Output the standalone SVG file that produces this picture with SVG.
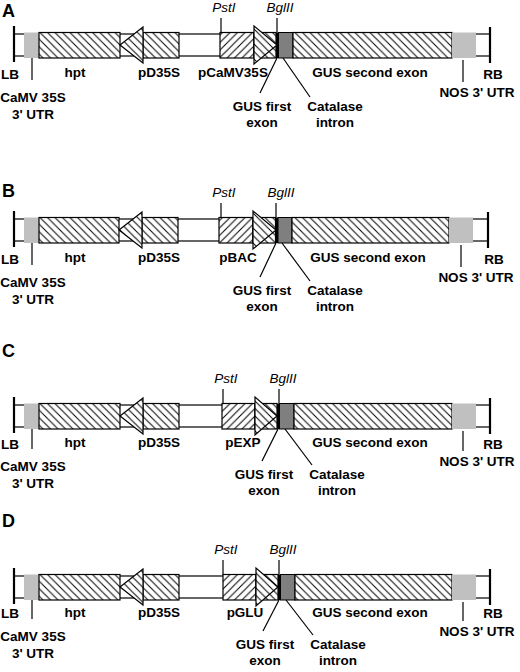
<svg xmlns="http://www.w3.org/2000/svg" width="520" height="672" viewBox="0 0 520 672">
<style>
.t{font-family:"Liberation Sans",Arial,sans-serif;font-weight:bold;font-size:13.5px;fill:#000;text-anchor:middle}
.i{font-family:"Liberation Sans",Arial,sans-serif;font-style:italic;font-size:13.5px;fill:#000;text-anchor:middle}
.L{font-family:"Liberation Sans",Arial,sans-serif;font-weight:bold;font-size:18px;fill:#000}
.bb{fill:#fff;stroke:#000;stroke-width:1.2}
.hb{fill:url(#hb);stroke:#000;stroke-width:1.2}
.hf{fill:url(#hf);stroke:#000;stroke-width:1.2}
.lg{fill:#c0c0c0}
.dg{fill:#7f7f7f;stroke:#000;stroke-width:1}
.bk{fill:#000}
.ln{stroke:#000;stroke-width:1.2;fill:none}
.bd{stroke:#000;stroke-width:2.2}
</style>
<defs>
<pattern id="hb" patternUnits="userSpaceOnUse" width="7.5" height="7.5"><rect width="7.5" height="7.5" fill="#fff"/><path d="M-1,-1 L8.5,8.5 M-1,6.5 L1,8.5 M6.5,-1 L8.5,1" stroke="#000" stroke-width="1"/></pattern>
<pattern id="hf" patternUnits="userSpaceOnUse" width="7.5" height="7.5"><rect width="7.5" height="7.5" fill="#fff"/><path d="M-1,8.5 L8.5,-1 M-1,1 L1,-1 M6.5,8.5 L8.5,6.5" stroke="#000" stroke-width="1"/></pattern>
</defs>

<!-- Panel A -->
<g id="panelA">
<text class="L" x="2" y="17">A</text>
<g id="A-backbone"><rect class="bb" x="14" y="34" width="476" height="22"/></g>
<g id="A-LB"><line class="bd" x1="14" y1="26" x2="14" y2="62"/><text class="t" x="10" y="79">LB</text></g>
<g id="A-camv"><rect class="lg" x="24" y="32.5" width="15" height="25.5"/><text class="t" x="33" y="102">CaMV 35S</text><text class="t" x="33" y="119">3' UTR</text></g>
<g id="A-hpt"><rect class="hb" x="39" y="32.5" width="81" height="25.5"/><text class="t" x="75" y="77">hpt</text></g>
<g id="A-pD35S"><rect class="hb" x="143" y="32.5" width="36" height="25.5"/><polygon class="hb" points="120,45 143,27 143,63"/><text class="t" x="159" y="77">pD35S</text></g>
<g id="A-prom"><rect class="hf" x="220" y="32.5" width="34" height="25.5"/><text class="t" x="233" y="77">pCaMV35S</text></g>
<g id="A-gus1"><rect class="hb" x="254" y="32.5" width="22" height="25.5"/><polygon class="hb" points="254,26 254,64 277,45"/><rect class="bk" x="276" y="32.5" width="2.5" height="25.5"/><text class="t" x="262" y="111">GUS first</text><text class="t" x="262" y="127">exon</text></g>
<g id="A-cat"><rect class="dg" x="278.5" y="32.5" width="14.5" height="25.5"/><text class="t" x="335" y="111">Catalase</text><text class="t" x="335" y="127">intron</text></g>
<g id="A-gus2"><rect class="hb" x="293" y="32.5" width="159" height="25.5"/><text class="t" x="370" y="77">GUS second exon</text></g>
<g id="A-nos"><rect class="lg" x="452" y="32.5" width="24" height="25.5"/><text class="t" x="477" y="97">NOS 3' UTR</text></g>
<g id="A-RB"><line class="bd" x1="490" y1="27" x2="490" y2="63"/><text class="t" x="493" y="79">RB</text></g>
<g id="A-pst"><text class="i" x="224" y="12">PstI</text></g>
<g id="A-bgl"><text class="i" x="280" y="12">BglII</text></g>
<g id="A-connectors">
<line class="ln" x1="32" y1="58" x2="32" y2="80"/>
<line class="ln" x1="463" y1="60" x2="463" y2="82"/>
<line class="ln" x1="221" y1="18" x2="221" y2="32.5"/>
<line class="ln" x1="277" y1="18" x2="277" y2="32.5"/>
<line class="ln" x1="277" y1="58" x2="260" y2="93"/>
<line class="ln" x1="283" y1="58" x2="310" y2="97"/>
</g>
</g>

<!-- Panel B -->
<g id="panelB">
<text class="L" x="2" y="197">B</text>
<g transform="translate(0,185)">
<g id="B-backbone"><rect class="bb" x="14" y="34" width="474" height="22"/></g>
<g id="B-LB"><line class="bd" x1="14" y1="26" x2="14" y2="62"/><text class="t" x="10" y="79">LB</text></g>
<g id="B-camv"><rect class="lg" x="24" y="32.5" width="15" height="25.5"/><text class="t" x="33" y="102">CaMV 35S</text><text class="t" x="33" y="119">3' UTR</text></g>
<g id="B-hpt"><rect class="hb" x="39" y="32.5" width="80" height="25.5"/><text class="t" x="75" y="77">hpt</text></g>
<g id="B-pD35S"><rect class="hb" x="142" y="32.5" width="36" height="25.5"/><polygon class="hb" points="119,45 142,27 142,63"/><text class="t" x="159" y="77">pD35S</text></g>
<g id="B-prom"><rect class="hf" x="219" y="32.5" width="34" height="25.5"/><text class="t" x="238" y="77">pBAC</text></g>
<g id="B-gus1"><rect class="hb" x="253" y="32.5" width="22.5" height="25.5"/><polygon class="hb" points="253,26 253,64 276,45"/><rect class="bk" x="275.5" y="32.5" width="2.5" height="25.5"/><text class="t" x="262" y="110">GUS first</text><text class="t" x="262" y="126">exon</text></g>
<g id="B-cat"><rect class="dg" x="278" y="32.5" width="14" height="25.5"/><text class="t" x="335" y="110">Catalase</text><text class="t" x="335" y="126">intron</text></g>
<g id="B-gus2"><rect class="hb" x="292" y="32.5" width="157" height="25.5"/><text class="t" x="368" y="77">GUS second exon</text></g>
<g id="B-nos"><rect class="lg" x="449" y="32.5" width="24" height="25.5"/><text class="t" x="476" y="97">NOS 3' UTR</text></g>
<g id="B-RB"><line class="bd" x1="488" y1="27" x2="488" y2="63"/><text class="t" x="494" y="79">RB</text></g>
<g id="B-pst"><text class="i" x="224" y="12">PstI</text></g>
<g id="B-bgl"><text class="i" x="281" y="12">BglII</text></g>
<g id="B-connectors">
<line class="ln" x1="32" y1="58" x2="32" y2="80"/>
<line class="ln" x1="461" y1="60" x2="461" y2="82"/>
<line class="ln" x1="221" y1="18" x2="221" y2="32.5"/>
<line class="ln" x1="276" y1="18" x2="276" y2="32.5"/>
<line class="ln" x1="276" y1="58" x2="260" y2="92"/>
<line class="ln" x1="282" y1="58" x2="310" y2="96"/>
</g>
</g>
</g>

<!-- Panel C -->
<g id="panelC">
<text class="L" x="2" y="357">C</text>
<g transform="translate(0,371)">
<g id="C-backbone"><rect class="bb" x="14" y="34" width="476" height="22"/></g>
<g id="C-LB"><line class="bd" x1="14" y1="26" x2="14" y2="62"/><text class="t" x="10" y="78">LB</text></g>
<g id="C-camv"><rect class="lg" x="24" y="32.5" width="15" height="25.5"/><text class="t" x="33" y="100">CaMV 35S</text><text class="t" x="33" y="117">3' UTR</text></g>
<g id="C-hpt"><rect class="hb" x="39" y="32.5" width="81" height="25.5"/><text class="t" x="75" y="76">hpt</text></g>
<g id="C-pD35S"><rect class="hb" x="143" y="32.5" width="36" height="25.5"/><polygon class="hb" points="120,45 143,27 143,63"/><text class="t" x="159" y="76">pD35S</text></g>
<g id="C-prom"><rect class="hf" x="222" y="32.5" width="33" height="25.5"/><text class="t" x="243" y="76">pEXP</text></g>
<g id="C-gus1"><rect class="hb" x="255" y="32.5" width="22" height="25.5"/><polygon class="hb" points="255,26 255,64 277,45"/><rect class="bk" x="277" y="32.5" width="2.5" height="25.5"/><text class="t" x="264" y="108">GUS first</text><text class="t" x="264" y="124">exon</text></g>
<g id="C-cat"><rect class="dg" x="279.5" y="32.5" width="14.5" height="25.5"/><text class="t" x="337" y="108">Catalase</text><text class="t" x="337" y="124">intron</text></g>
<g id="C-gus2"><rect class="hb" x="294" y="32.5" width="158" height="25.5"/><text class="t" x="370" y="76">GUS second exon</text></g>
<g id="C-nos"><rect class="lg" x="452" y="32.5" width="24" height="25.5"/><text class="t" x="477" y="95">NOS 3' UTR</text></g>
<g id="C-RB"><line class="bd" x1="490" y1="27" x2="490" y2="63"/><text class="t" x="493" y="78">RB</text></g>
<g id="C-pst"><text class="i" x="226" y="12">PstI</text></g>
<g id="C-bgl"><text class="i" x="283" y="12">BglII</text></g>
<g id="C-connectors">
<line class="ln" x1="32" y1="58" x2="32" y2="78"/>
<line class="ln" x1="463" y1="60" x2="463" y2="80"/>
<line class="ln" x1="223" y1="18" x2="223" y2="32.5"/>
<line class="ln" x1="279" y1="18" x2="279" y2="32.5"/>
<line class="ln" x1="278" y1="58" x2="262" y2="90"/>
<line class="ln" x1="285" y1="58" x2="312" y2="94"/>
</g>
</g>
</g>

<!-- Panel D -->
<g id="panelD">
<text class="L" x="2" y="527">D</text>
<g transform="translate(0,542)">
<g id="D-backbone"><rect class="bb" x="14" y="34" width="476" height="22"/></g>
<g id="D-LB"><line class="bd" x1="14" y1="26" x2="14" y2="62"/><text class="t" x="10" y="76">LB</text></g>
<g id="D-camv"><rect class="lg" x="24" y="32.5" width="15" height="25.5"/><text class="t" x="33" y="99">CaMV 35S</text><text class="t" x="33" y="116">3' UTR</text></g>
<g id="D-hpt"><rect class="hb" x="39" y="32.5" width="81" height="25.5"/><text class="t" x="75" y="75">hpt</text></g>
<g id="D-pD35S"><rect class="hb" x="143" y="32.5" width="36" height="25.5"/><polygon class="hb" points="120,45 143,27 143,63"/><text class="t" x="159" y="75">pD35S</text></g>
<g id="D-prom"><rect class="hf" x="223" y="32.5" width="33" height="25.5"/><text class="t" x="245" y="75">pGLU</text></g>
<g id="D-gus1"><rect class="hb" x="256" y="32.5" width="22" height="25.5"/><polygon class="hb" points="256,26 256,64 278,45"/><rect class="bk" x="278" y="32.5" width="2.5" height="25.5"/><text class="t" x="265" y="107">GUS first</text><text class="t" x="265" y="123">exon</text></g>
<g id="D-cat"><rect class="dg" x="280.5" y="32.5" width="14.5" height="25.5"/><text class="t" x="338" y="107">Catalase</text><text class="t" x="338" y="123">intron</text></g>
<g id="D-gus2"><rect class="hb" x="295" y="32.5" width="157" height="25.5"/><text class="t" x="370" y="75">GUS second exon</text></g>
<g id="D-nos"><rect class="lg" x="452" y="32.5" width="24" height="25.5"/><text class="t" x="477" y="94">NOS 3' UTR</text></g>
<g id="D-RB"><line class="bd" x1="490" y1="27" x2="490" y2="63"/><text class="t" x="493" y="76">RB</text></g>
<g id="D-pst"><text class="i" x="226" y="12">PstI</text></g>
<g id="D-bgl"><text class="i" x="283" y="12">BglII</text></g>
<g id="D-connectors">
<line class="ln" x1="32" y1="58" x2="32" y2="77"/>
<line class="ln" x1="463" y1="60" x2="463" y2="79"/>
<line class="ln" x1="223" y1="18" x2="223" y2="32.5"/>
<line class="ln" x1="279" y1="18" x2="279" y2="32.5"/>
<line class="ln" x1="279" y1="58" x2="263" y2="89"/>
<line class="ln" x1="286" y1="58" x2="313" y2="93"/>
</g>
</g>
</g>
</svg>
